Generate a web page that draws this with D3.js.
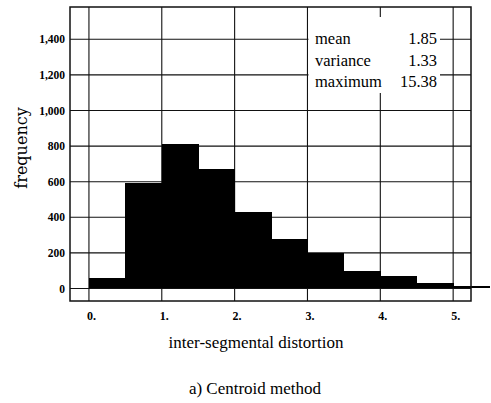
<!DOCTYPE html>
<html>
<head>
<meta charset="utf-8">
<script src="https://cdn.jsdelivr.net/npm/d3@7"></script>
<style>
  body { margin: 0; background: #fff; }
  svg { display: block; }
  text { font-family: "Liberation Serif", "Times New Roman", Times, serif; }
</style>
</head>
<body>
<svg id="chart" width="491" height="403"></svg>
<script>
// histogram bins (left edge, width 0.5) and counts
const binStarts = [0, 0.5, 1.0, 1.5, 2.0, 2.5, 3.0, 3.5, 4.0, 4.5, 5.0];
const frequency = [60, 593, 810, 670, 428, 276, 198, 98, 70, 33, 14];
const binWidth = 0.5;

const xTicks = [0, 1, 2, 3, 4, 5];
const yTicks = [0, 200, 400, 600, 800, 1000, 1200, 1400];

const statLabels = ["mean", "variance", "maximum"];
const statValues = ["1.85", "1.33", "15.38"];

const serif = "'Liberation Serif', 'Times New Roman', Times, serif";
const frame = { left: 70, right: 471, top: 7, bottom: 301 };

const svg = d3.select("#chart");

const xScale = d3.scaleLinear()
    .domain([-0.26, 5.245])
    .range([frame.left, frame.right]);

const yScale = d3.scaleLinear()
    .domain([-70, 1581])
    .range([frame.bottom, frame.top]);

const innerWidth = frame.right - frame.left;
const innerHeight = frame.bottom - frame.top;

// plot area: frame, grid, bars
const plot = svg.append("g");

// horizontal grid lines
plot.append("g")
    .selectAll("line")
    .data(yTicks)
    .join("line")
        .attr("x1", frame.left)
        .attr("x2", frame.right)
        .attr("y1", d => yScale(d))
        .attr("y2", d => yScale(d))
        .attr("stroke", "#111")
        .attr("stroke-width", 1.1);

// vertical grid lines
plot.append("g")
    .selectAll("line")
    .data(xTicks)
    .join("line")
        .attr("x1", d => xScale(d))
        .attr("x2", d => xScale(d))
        .attr("y1", frame.top)
        .attr("y2", frame.bottom)
        .attr("stroke", "#111")
        .attr("stroke-width", 1.1);

// bars
plot.append("g")
    .attr("shape-rendering", "crispEdges")
    .selectAll("rect")
    .data(binStarts.map((b, i) => ({ start: b, count: frequency[i] })))
    .join("rect")
        .attr("x", d => xScale(d.start))
        .attr("y", d => yScale(d.count))
        .attr("width", d => xScale(d.start + binWidth) - xScale(d.start) + 0.5)
        .attr("height", d => yScale(0) - yScale(d.count) - 1)
        .attr("fill", "#000");

plot.append("rect")
    .attr("x", frame.left)
    .attr("y", frame.top)
    .attr("width", innerWidth)
    .attr("height", innerHeight)
    .attr("fill", "none")
    .attr("stroke", "#111")
    .attr("stroke-width", 1.5);

// stats box
plot.append("rect")
    .attr("x", xScale(3) + 1)
    .attr("y", 17)
    .attr("width", 440 - xScale(3) - 1)
    .attr("height", 76)
    .attr("fill", "#fff");

// tick labels via axes (lines hidden, drawn above)
const yAxis = svg.append("g")
    .attr("transform", `translate(${frame.left},0)`)
    .call(d3.axisLeft(yScale)
        .tickValues(yTicks)
        .tickFormat(d3.format(","))
        .tickSize(0)
        .tickPadding(5));
yAxis.select(".domain").remove();
yAxis.selectAll("line").remove();
yAxis.selectAll("text")
    .style("font-family", serif)
    .attr("font-size", 11.5)
    .attr("font-weight", "bold")
    .attr("fill", "#000");

const xAxis = svg.append("g")
    .attr("transform", `translate(0,${frame.bottom})`)
    .call(d3.axisBottom(xScale)
        .tickValues(xTicks)
        .tickFormat(d => d + ".")
        .tickSize(0)
        .tickPadding(10));
xAxis.select(".domain").remove();
xAxis.selectAll("line").remove();
xAxis.selectAll("text")
    .style("font-family", serif)
    .attr("font-size", 12)
    .attr("font-weight", "bold")
    .attr("fill", "#000")
    .attr("dx", 2);

// stats text
const box = svg.append("g");
box.selectAll(".stat-label")
    .data(statLabels)
    .join("text")
        .attr("class", "stat-label")
        .attr("x", 315)
        .attr("y", (d, i) => 44 + i * 21.5)
        .attr("font-size", 16.5)
        .text(d => d);

box.selectAll(".stat-value")
    .data(statValues)
    .join("text")
        .attr("class", "stat-value")
        .attr("x", 437)
        .attr("y", (d, i) => 44 + i * 21.5)
        .attr("text-anchor", "end")
        .attr("font-size", 16.5)
        .text(d => d);

// axis titles
svg.append("text")
    .attr("x", 256)
    .attr("y", 348)
    .attr("text-anchor", "middle")
    .attr("font-size", 17)
    .text("inter-segmental distortion");

svg.append("text")
    .attr("transform", "translate(26.5,148) rotate(-90)")
    .attr("text-anchor", "middle")
    .style("font-family", "'DejaVu Serif', serif")
    .attr("font-size", 16)
    .text("frequency");

svg.append("text")
    .attr("x", 255)
    .attr("y", 394)
    .attr("text-anchor", "middle")
    .attr("font-size", 17)
    .text("a) Centroid method");
</script>
</body>
</html>
